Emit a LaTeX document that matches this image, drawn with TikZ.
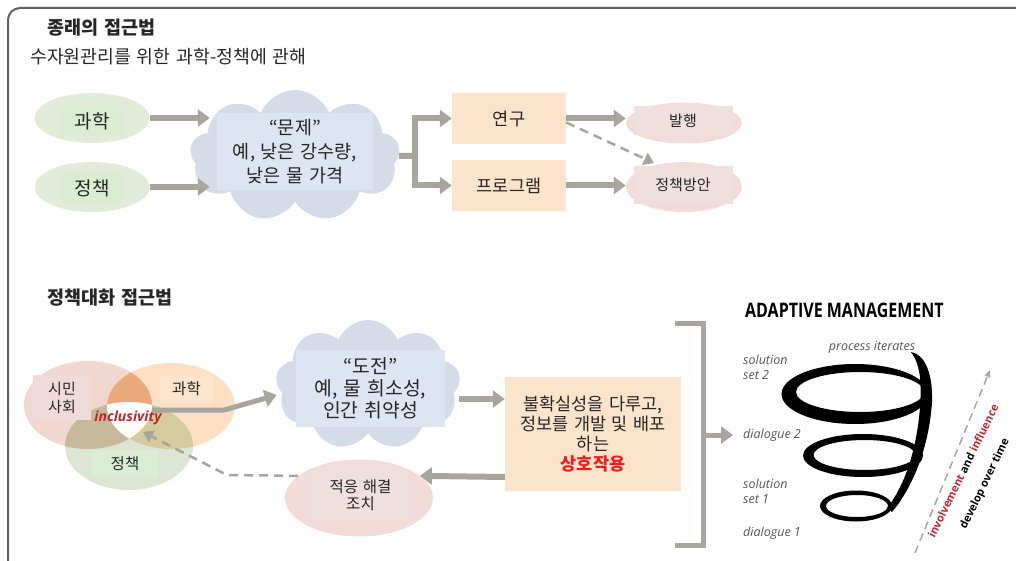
\documentclass[tikz,border=0pt]{standalone}
\usepackage{fontspec}
\setmainfont{Noto Sans CJK KR}[WordSpace=1.4]
\newfontfamily\amfont{Open Sans}
\usetikzlibrary{arrows.meta,shapes.geometric,shapes.symbols}

\definecolor{arrgray}{RGB}{168,164,158}
\definecolor{framegray}{RGB}{95,95,95}
\definecolor{sagegreen}{RGB}{226,235,218}
\definecolor{sagein}{RGB}{218,237,210}
\definecolor{cloudblue}{RGB}{214,220,231}
\definecolor{cloudin}{RGB}{220,229,241}
\definecolor{peach}{RGB}{252,228,204}
\definecolor{rosy}{RGB}{242,220,218}
\definecolor{rosyin}{RGB}{240,223,223}
\definecolor{vpink}{RGB}{242,214,208}
\definecolor{vpinkin}{RGB}{240,218,218}
\definecolor{vorange}{RGB}{253,224,196}
\definecolor{vorangein}{RGB}{252,228,205}
\definecolor{vgreen}{RGB}{221,229,213}
\definecolor{vgreenin}{RGB}{220,237,213}
\definecolor{vpo}{RGB}{234,170,126}
\definecolor{vpg}{RGB}{199,183,155}
\definecolor{vog}{RGB}{214,203,156}
\definecolor{inclred}{RGB}{192,39,45}
\definecolor{hotred}{RGB}{240,30,30}
\definecolor{labelgray}{RGB}{85,85,85}

\begin{document}
\begin{tikzpicture}[x=1pt,y=-1pt,
    txt/.style={text=black!85, font=\fontsize{16}{20}\selectfont},
    oval/.style={ellipse, inner sep=0pt},
    boxin/.style={rectangle, inner sep=0pt, align=center, txt},
    puff/.style={cloud, cloud puffs=9, cloud puff arc=135, cloud ignores aspect, fill=cloudblue, inner sep=0pt},
    garrow/.style={line width=6pt, draw=arrgray, -{Triangle[length=12pt,width=17pt]}},
    gline/.style={line width=6pt, draw=arrgray},
    darrow/.style={line width=2.5pt, draw=arrgray, dash pattern=on 9pt off 6pt, -{Triangle[length=10pt,width=13pt]}},
    amlabel/.style={font=\amfont\itshape\fontsize{12.5}{15}\selectfont, text=labelgray, align=left, inner sep=0pt, anchor=west}
  ]
  \useasboundingbox (0,0) rectangle (1016,561);
  % outer frame, open at right and bottom
  \draw[line width=2pt, framegray, rounded corners=12pt] (8,570) -- (8,8) -- (1024,8);

  % ---- top half: the usual way
  \node[txt, font=\bfseries\fontsize{18.5}{20}\selectfont, anchor=west, inner sep=0] (title1) at (47,28) {종래의 접근법};
  \node[txt, font=\fontsize{18.3}{20}\selectfont, anchor=west, inner sep=0] (sub1) at (30,57) {수자원관리를 위한 과학-정책에 관해};

  \node[oval, fill=sagegreen, minimum width=115, minimum height=50] (sci) at (92,118) {};
  \node[boxin, fill=sagein, minimum width=60, minimum height=30, font=\fontsize{19}{20}\selectfont] (sciL) at (92,121) {과학};
  \node[oval, fill=sagegreen, minimum width=115, minimum height=50] (pol) at (92,187) {};
  \node[boxin, fill=sagein, minimum width=60, minimum height=30, font=\fontsize{19}{20}\selectfont] (polL) at (92,188) {정책};

  \node[puff, minimum width=210, minimum height=132] (prob) at (295,156) {};
  \node[boxin, fill=cloudin, minimum width=156, minimum height=77, font=\fontsize{18.5}{24}\selectfont] (probL) at (295,151.5) {“문제”\\예, 낮은 강수량,\\낮은 물 가격};

  \draw[garrow, shorten >=7pt] (sci.east) -- (sci.east -| probL.west);
  \draw[garrow, shorten >=7pt] (pol.east) -- (pol.east -| probL.west);

  \node[boxin, fill=peach, minimum width=114, minimum height=51, font=\fontsize{17.5}{20}\selectfont] (res) at (509,118.5) {연구};
  \node[boxin, fill=peach, minimum width=114, minimum height=51, font=\fontsize{17.5}{20}\selectfont] (prg) at (509,185.5) {프로그램};

  \node[oval, fill=rosy, minimum width=116, minimum height=41] (pub) at (684,123) {};
  \node[boxin, fill=rosyin, minimum width=99, minimum height=29, font=\fontsize{15}{18}\selectfont] (pubL) at (683,121) {발행};
  \node[oval, fill=rosy, minimum width=116, minimum height=50] (sol) at (684,187) {};
  \node[boxin, fill=rosyin, minimum width=99, minimum height=38, font=\fontsize{15}{18}\selectfont] (solL) at (683,185) {정책방안};

  \coordinate (fork) at (415,156);
  \draw[gline] (prob.east) -- (fork);
  \draw[garrow] (fork) |- (res.west);
  \draw[garrow] (fork) |- (prg.west);
  \draw[garrow] (res.east) -- (res.east -| pub.west);
  \draw[garrow] (prg.east) -- (prg.east -| sol.west);
  \coordinate (solTop) at (654,163);
  \draw[darrow] ([yshift=-4pt]res.east) -- (solTop);

  % ---- bottom half: dialogue
  \node[txt, font=\bfseries\fontsize{18.5}{20}\selectfont, anchor=west, inner sep=0] (title2) at (47,298) {정책대화 접근법};

  % three overlapping ovals
  \fill[vpink] (88,405) ellipse [x radius=64pt, y radius=44pt];
  \fill[vorange] (171,406) ellipse [x radius=64pt, y radius=43pt];
  \fill[vgreen] (129,446) ellipse [x radius=64pt, y radius=44pt];
  \begin{scope}
    \clip (88,405) ellipse [x radius=64pt, y radius=44pt];
    \fill[vpo] (171,406) ellipse [x radius=64pt, y radius=43pt];
    \fill[vpg] (129,446) ellipse [x radius=64pt, y radius=44pt];
  \end{scope}
  \begin{scope}
    \clip (171,406) ellipse [x radius=64pt, y radius=43pt];
    \fill[vog] (129,446) ellipse [x radius=64pt, y radius=44pt];
  \end{scope}
  \begin{scope}
    \clip (88,405) ellipse [x radius=64pt, y radius=44pt];
    \clip (171,406) ellipse [x radius=64pt, y radius=43pt];
    \fill[white] (129,446) ellipse [x radius=64pt, y radius=44pt];
  \end{scope}
  \node[boxin, fill=vpinkin, minimum width=58, minimum height=45, font=\fontsize{15}{18}\selectfont] (civ) at (62,397.5) {시민\\사회};
  \node[boxin, fill=vorangein, minimum width=53, minimum height=28, font=\fontsize{15.5}{18}\selectfont] (sciB) at (186.5,389) {과학};
  \node[boxin, fill=vgreenin, minimum width=66, minimum height=27, font=\fontsize{15.5}{18}\selectfont] (polB) at (125,463.5) {정책};
  \node[font=\amfont\bfseries\itshape\fontsize{14}{16}\selectfont, text=inclred, inner sep=0] (incl) at (128,418) {inclusivity};

  \node[puff, minimum width=185, minimum height=130] (cloud2) at (368,385) {};
  \node[boxin, fill=cloudin, minimum width=149, minimum height=77, font=\fontsize{19.3}{22}\selectfont] (chal) at (370.5,388.5) {“도전”\\예, 물 희소성,\\인간 취약성};

  \coordinate (coreE) at (152,410);
  \coordinate (kneeA) at (224,410);
  \draw[garrow, line width=5pt] (coreE) -- (kneeA) -- ([yshift=-10pt]cloud2.west);

  \node[boxin, fill=peach, minimum width=176, minimum height=114, font=\fontsize{17.5}{20}\selectfont] (inter) at (593,434) {불확실성을 다루고,\\정보를 개발 및 배포\\하는\\{\bfseries\color{hotred}상호작용}};
  \coordinate (c2out) at ([yshift=-14pt]cloud2.east);
  \draw[garrow] (c2out) -- (c2out -| inter.west);

  \node[oval, fill=rosy, minimum width=148, minimum height=77] (fix) at (359,498) {};
  \node[boxin, fill=rosyin, minimum width=95, minimum height=50, font=\fontsize{15.5}{17}\selectfont] (fixL) at (360.5,495) {적응 해결\\조치};
  \coordinate (intOut) at ([yshift=-43pt]inter.west);
  \draw[garrow] (intOut) -- (fix.20);

  \coordinate (kneeB) at (227,475);
  \coordinate (coreS) at (143,432);
  \draw[darrow] (fix.160) -- (kneeB) -- (coreS);

  % bracket
  \draw[gline, line width=5pt] (675,323) -- (703,323) -- (703,545) -- (675,545);
  \coordinate (brM) at (703,435);

  % adaptive management spiral
  \node[font=\amfont\bfseries\fontsize{20}{22}\selectfont, xscale=0.8, anchor=west, inner sep=0] (amTitle) at (745,310) {ADAPTIVE MANAGEMENT};
  \node[amlabel] (sol2) at (743,367) {solution\\set 2};
  \node[amlabel] (dlg2) at (743,435) {dialogue 2};
  \node[amlabel] (sol1) at (743,491) {solution\\set 1};
  \node[amlabel] (dlg1) at (743,533) {dialogue 1};
  \node[amlabel, anchor=center] (iter) at (872,347) {process iterates};
  \draw[garrow, line width=5pt, shorten >=10pt] (brM) -- (dlg2.west);

  \fill[black, even odd rule] (855,394) ellipse [x radius=73.5pt, y radius=30pt] (860,392) ellipse [x radius=64pt, y radius=20pt];
  \fill[black, even odd rule] (863,455.5) ellipse [x radius=60pt, y radius=21.5pt] (864.5,455) ellipse [x radius=51pt, y radius=15pt];
  \fill[black, even odd rule] (856,506) ellipse [x radius=36pt, y radius=15.5pt] (857,506) ellipse [x radius=31pt, y radius=11pt];
  \fill[black] (887,508) .. controls (906,484) and (917,447) .. (920,407) .. controls (922,382) and (920,364) .. (911,352) .. controls (924,354) and (933,372) .. (932,402) .. controls (929,447) and (913,487) .. (892,512) -- cycle;

  \coordinate (slopeA) at (915,553);
  \coordinate (slopeB) at (990,370);
  \draw[gray!70, line width=1.5pt, dash pattern=on 8pt off 5pt, -{Triangle[length=7pt,width=6pt]}] (slopeA) -- (slopeB);
  \node[rotate=64, font=\amfont\bfseries\fontsize{11}{13}\selectfont, inner sep=0] (invl) at (963,471) {\textcolor{inclred}{involvement} and \textcolor{inclred}{influence}};
  \node[rotate=64, font=\amfont\bfseries\fontsize{11}{13}\selectfont, inner sep=0] (devl) at (985,484) {develop over time};
\end{tikzpicture}
\end{document}
